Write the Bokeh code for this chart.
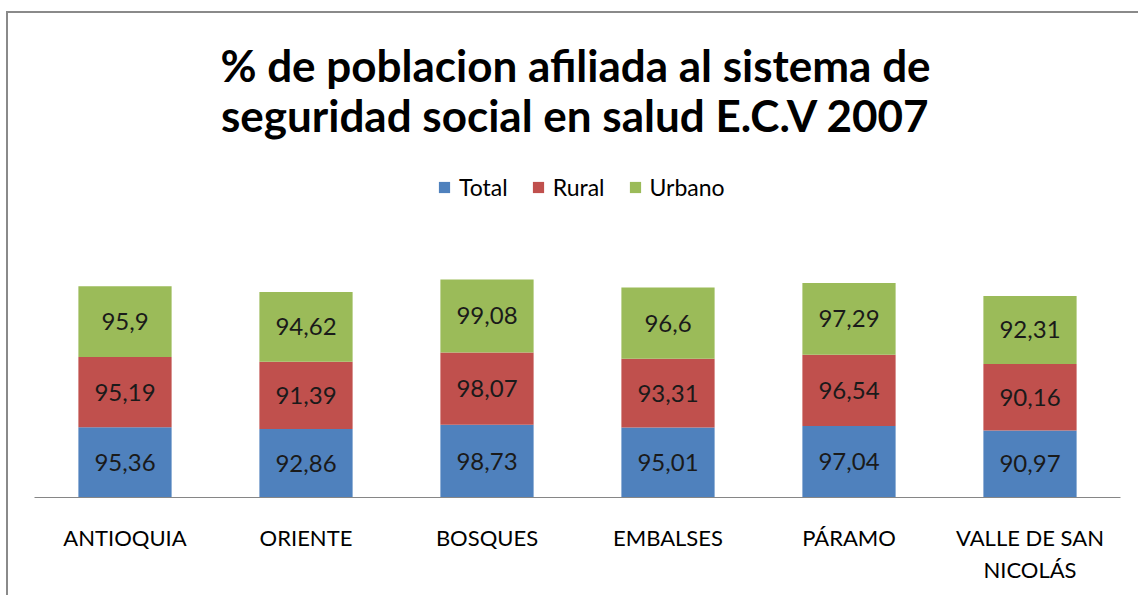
from bokeh.plotting import figure
from bokeh.models import ColumnDataSource, Range1d, FactorRange, Legend, LegendItem, Label
from bokeh.core.properties import value
from bokeh.embed import file_html
from bokeh.resources import INLINE

categories = ["ANTIOQUIA", "ORIENTE", "BOSQUES", "EMBALSES", "PÁRAMO", "VALLE DE SAN\nNICOLÁS"]
total = [95.36, 92.86, 98.73, 95.01, 97.04, 90.97]
rural = [95.19, 91.39, 98.07, 93.31, 96.54, 90.16]
urbano = [95.9, 94.62, 99.08, 96.6, 97.29, 92.31]

series = ["Total", "Rural", "Urbano"]
colors = ["#4F81BD", "#C0504D", "#9BBB59"]
title_lines = ["% de poblacion afiliada al sistema de", "seguridad social en salud E.C.V 2007"]

FONT = "Lato"

def fmt(v):
    return str(v).replace(".", ",")

src = ColumnDataSource(dict(cat=categories, Total=total, Rural=rural, Urbano=urbano))

FRAME_H = 484
FRAME_W = 1086
BAR_AREA_H = 258  # pixels used by the 0..350 value axis in the original
y_end = 350 * FRAME_H / BAR_AREA_H

p = figure(frame_width=FRAME_W, frame_height=FRAME_H,
           x_range=FactorRange(*categories), y_range=Range1d(0, y_end),
           output_backend="svg", toolbar_location=None, title=None,
           min_border_left=26, min_border_right=18, min_border_bottom=98, min_border_top=0,
           border_fill_color="white",
           styles={"margin-left": "6px", "margin-top": "11px",
                   "border-left": "2px solid #8a8a8a", "border-top": "2px solid #8a8a8a",
                   "border-right": "none", "border-bottom": "none", "outline": "none",
                   "box-shadow": "none"})
p.x_range.range_padding = 0
p.outline_line_color = None
p.xgrid.visible = False
p.ygrid.visible = False
p.yaxis.visible = False

rs = p.vbar_stack(series, x="cat", width=0.515, source=src, color=colors, line_color=None)

# data labels
lab_x, lab_y, lab_t = [], [], []
for i, c in enumerate(categories):
    base = 0.0
    for vals in (total, rural, urbano):
        v = vals[i]
        lab_x.append(c)
        lab_y.append(base + v / 2)
        lab_t.append(fmt(v))
        base += v
p.text(x=lab_x, y=lab_y, text=lab_t, text_align="center", text_baseline="middle",
       text_font=value(FONT), text_font_size="24px", text_color="#1a1a1a")

xa = p.xaxis[0]
xa.axis_line_color = "#868686"
xa.axis_line_width = 1
xa.major_tick_line_color = None
xa.minor_tick_line_color = None
xa.major_label_standoff = 20
xa.major_label_text_font = FONT
xa.major_label_text_font_size = "22px"
xa.major_label_text_color = "#000000"

legend = Legend(items=[LegendItem(label=s, renderers=[r]) for s, r in zip(series, rs)],
                orientation="horizontal", location=(403, 296), margin=0, padding=0,
                glyph_width=14, glyph_height=14, label_text_font=FONT,
                label_text_font_size="23px", label_text_color="#000000",
                border_line_color=None, background_fill_alpha=0, spacing=23, label_standoff=8)
p.add_layout(legend, "center")

for txt, yy in zip(title_lines, (433, 383)):
    p.add_layout(Label(x=541, y=yy, x_units="screen", y_units="screen", text=txt,
                       text_align="center", text_baseline="alphabetic",
                       text_font=FONT, text_font_style="bold", text_font_size="44px",
                       text_color="#000000"))

open("out.html", "w").write(file_html(p, INLINE))
